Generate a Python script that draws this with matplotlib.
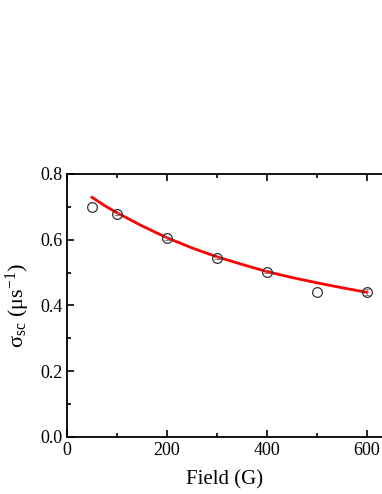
import matplotlib
matplotlib.use("Agg")
import matplotlib.pyplot as plt
from matplotlib.ticker import MultipleLocator

# dados medidos
campo = [50, 100, 200, 300, 400, 500, 600]
sigma = [0.700, 0.677, 0.604, 0.545, 0.503, 0.440, 0.440]
erro = [0.0, 0.003, 0.004, 0.004, 0.004, 0.0, 0.009]

# curva de ajuste
campo_fit = [50, 75, 100, 150, 200, 250, 300, 350, 400, 450, 500, 550, 600]
sigma_fit = [0.729, 0.704, 0.682, 0.642, 0.606, 0.575, 0.548, 0.525, 0.503, 0.485, 0.469, 0.454, 0.440]

plt.rcParams['font.family'] = ['Liberation Serif', 'DejaVu Serif']
plt.rcParams['mathtext.fontset'] = 'custom'
plt.rcParams['mathtext.rm'] = 'Liberation Serif'
plt.rcParams['mathtext.it'] = 'Liberation Serif'

fig = plt.figure(figsize=(3.82, 4.94), dpi=100)
ax = fig.add_axes([0.1754, 0.1154, 0.8246, 0.5324])

ax.plot(campo_fit, sigma_fit, color='red', lw=2, zorder=2)
# barras de erro so onde aparecem (sem tracinho no meio dos circulos)
com_erro = [i for i in range(len(campo)) if erro[i] > 0]
ax.errorbar([campo[i] for i in com_erro], [sigma[i] for i in com_erro],
            yerr=[erro[i] for i in com_erro], fmt='none', ecolor='#777777',
            capsize=2, elinewidth=0.6, capthick=0.6, zorder=3)
ax.plot(campo, sigma, 'o', mfc='none', mec='#333333', ms=7, mew=0.9, zorder=4)

ax.set_xlim(0, 630)
ax.set_ylim(0, 0.8)
ax.xaxis.set_major_locator(MultipleLocator(200))
ax.xaxis.set_minor_locator(MultipleLocator(100))
ax.yaxis.set_major_locator(MultipleLocator(0.2))
ax.yaxis.set_minor_locator(MultipleLocator(0.1))
ax.yaxis.set_major_formatter(plt.FuncFormatter(lambda v, p: '%.1f' % v))

ax.tick_params(which='both', direction='in', top=True, right=False, labelsize=13, width=1.2)
ax.tick_params(which='major', length=5)
ax.tick_params(which='minor', length=3)
for s in ['left', 'bottom', 'top']:
    ax.spines[s].set_linewidth(1.3)
ax.spines['right'].set_visible(False)

ax.set_xlabel('Field (G)', fontsize=15, labelpad=8)
ax.set_ylabel('σ$_{\\mathrm{sc}}$ (μs$^{\\mathrm{-1}}$)', fontsize=16, labelpad=6)

fig.savefig('out.png', dpi=100)
